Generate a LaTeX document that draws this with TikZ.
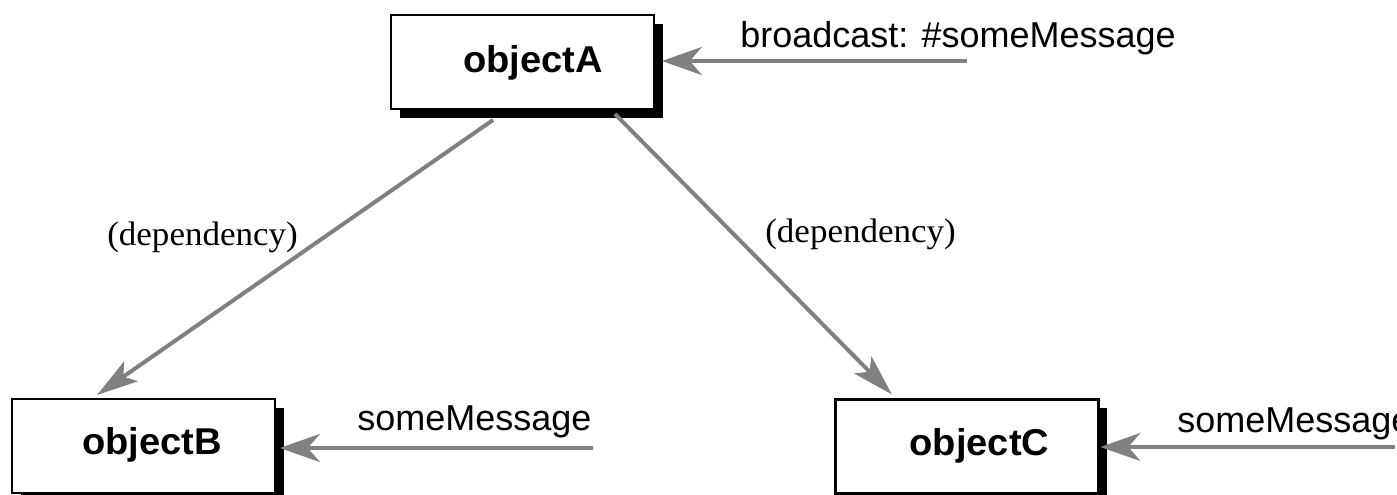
\documentclass[tikz,border=0pt]{standalone}
\usepackage{fontspec}
\newfontfamily\sanslbl{Liberation Sans}
\newfontfamily\seriflbl{Liberation Serif}
\usetikzlibrary{arrows.meta,shadows,calc}
\definecolor{arrowgray}{RGB}{128,128,128}
\begin{document}
\begin{tikzpicture}[x=0.75pt,y=-0.75pt,
  obj/.style={draw=black, line width=1.9pt, fill=white, minimum width=197pt, minimum height=70.5pt,
    inner sep=0pt, outer sep=0pt,
    drop shadow={shadow xshift=6.5pt, shadow yshift=-6.5pt, fill=black, opacity=1}},
  objtxt/.style={font=\sanslbl\bfseries\fontsize{28}{33}\selectfont, xscale=1.02, inner sep=0pt, anchor=base},
  msg/.style={font=\sanslbl\fontsize{27}{32}\selectfont, inner sep=0pt, anchor=base west},
  dep/.style={font=\seriflbl\fontsize{25.5}{30}\selectfont, xscale=1.03, inner sep=0pt, anchor=base west},
  conn/.style={draw=arrowgray, line width=3pt, -{Stealth[length=30pt, width=21pt, inset=9pt]}},
  dconn/.style={draw=arrowgray, line width=3pt, -{Stealth[length=31pt, width=18pt, inset=7pt]}}]
\useasboundingbox (0,0) rectangle (1397,495);

% boxes
\node[obj] (A) at (522.5,62) {};
\node[obj] (B) at (143.5,446) {};
\node[obj] (C) at (967,446.5) {};

\node[objtxt] (At) at ($(A.center)+(10.5,11)$) {objectA};
\node[objtxt] (Bt) at ($(B.center)+(8.5,9)$) {objectB};
\node[objtxt] (Ct) at ($(C.center)+(12.5,9)$) {objectC};

% free ends of the message arrows
\coordinate (bsA) at (967,61);
\coordinate (bsB) at (593,448);
\coordinate (bsC) at (1395,447);

% message arrows
\draw[conn] (bsA) -- ([shift={(8,-1)}]A.east);
\draw[conn] (bsB) -- ([shift={(5,2)}]B.east);
\draw[conn] (bsC) -- ([shift={(2,0.5)}]C.east);

% dependency arrows
\draw[dconn] ([shift={(-29.5,11)}]A.south) -- ([shift={(-46.5,-4)}]B.north);
\draw[dconn] ([shift={(92.5,5)}]A.south) -- ([shift={(-75,-5)}]C.north);

% labels
\node[msg] (lA) at (740,48) {broadcast: \#someMessage};
\node[msg] (lB) at (357,431) {someMessage};
\node[msg] (lC) at (1177,432) {someMessage};
\node[dep] (d1) at (107,246) {(dependency)};
\node[dep] (d2) at (765,243) {(dependency)};
\end{tikzpicture}
\end{document}
